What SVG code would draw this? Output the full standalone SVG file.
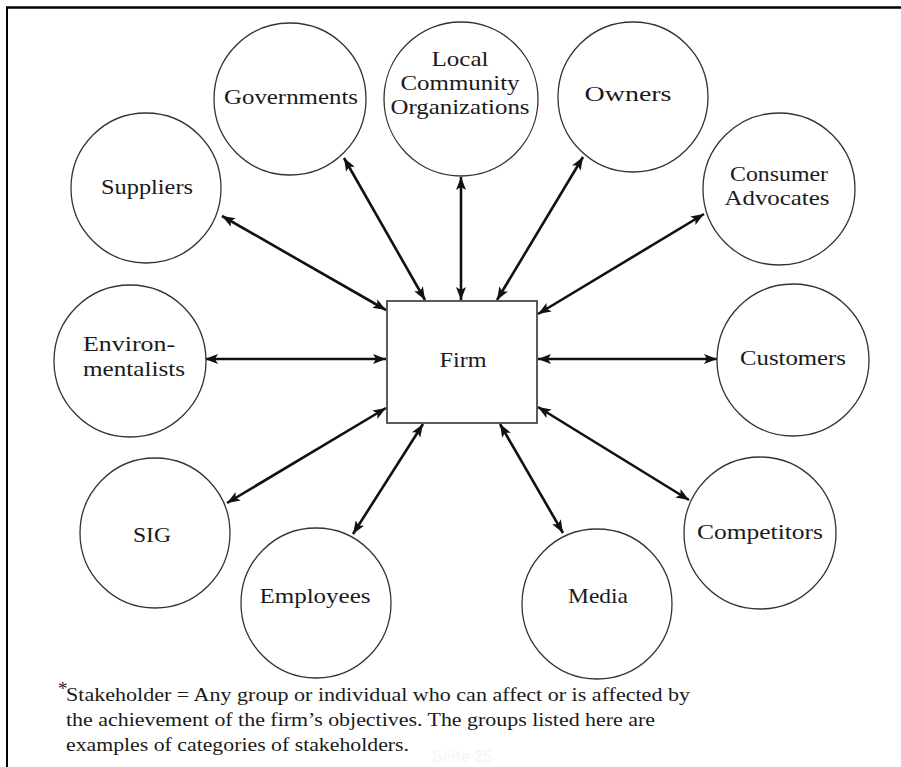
<svg xmlns="http://www.w3.org/2000/svg" width="901" height="767" viewBox="0 0 901 767">
  <style>
    .node circle { fill: #fff; stroke: #333; stroke-width: 1.3; }
    .node rect { fill: #fff; stroke: #333; stroke-width: 1.6; }
    .lbl { font-family: "Liberation Serif", "Times New Roman", serif; font-size: 22px; fill: #1a1a1a; text-anchor: middle; }
    .note { font-family: "Liberation Serif", "Times New Roman", serif; font-size: 19px; fill: #1a1a1a; }
    .conn line { stroke: #111; stroke-width: 2.6; marker-start: url(#head); marker-end: url(#head); }
    .frame { stroke: #000; fill: none; }
  </style>
  <defs>
    <marker id="head" markerUnits="userSpaceOnUse" markerWidth="14" markerHeight="10" refX="13" refY="5" orient="auto-start-reverse">
      <path d="M0,0 L13,5 L0,10 L3,5 z" fill="#111"/>
    </marker>
  </defs>

  <rect width="901" height="767" fill="#fff"/>

  <!-- page frame: top rule and left rule -->
  <line class="frame" x1="6" y1="7.5" x2="901" y2="7.5" stroke-width="2.6"/>
  <line class="frame" x1="7" y1="7" x2="7" y2="767" stroke-width="2"/>

  <!-- connectors between the firm and each stakeholder group -->
  <g id="connectors" class="conn">
    <line x1="222" y1="216" x2="386" y2="310"/>
    <line x1="344" y1="158" x2="425" y2="300"/>
    <line x1="461" y1="177" x2="461" y2="300"/>
    <line x1="583" y1="157" x2="497" y2="300"/>
    <line x1="704" y1="214" x2="538" y2="314"/>
    <line x1="205" y1="359" x2="386" y2="359"/>
    <line x1="717" y1="359" x2="538" y2="359"/>
    <line x1="227" y1="503" x2="386" y2="408"/>
    <line x1="353" y1="534" x2="423" y2="424"/>
    <line x1="563" y1="533" x2="500" y2="424"/>
    <line x1="689" y1="500" x2="538" y2="407"/>
  </g>

  <g id="firm" class="node">
    <rect x="387" y="301" width="150" height="122"/>
    <text class="lbl" x="463" y="367" textLength="47" lengthAdjust="spacingAndGlyphs">Firm</text>
  </g>

  <g id="governments" class="node">
    <circle cx="290" cy="99" r="76"/>
    <text class="lbl" x="291" y="104" textLength="134" lengthAdjust="spacingAndGlyphs">Governments</text>
  </g>

  <g id="local-community" class="node">
    <circle cx="461" cy="99" r="77"/>
    <text class="lbl" x="460" y="66" textLength="57" lengthAdjust="spacingAndGlyphs">Local</text>
    <text class="lbl" x="460" y="90" textLength="119" lengthAdjust="spacingAndGlyphs">Community</text>
    <text class="lbl" x="460" y="114" textLength="139" lengthAdjust="spacingAndGlyphs">Organizations</text>
  </g>

  <g id="owners" class="node">
    <circle cx="633" cy="97" r="75"/>
    <text class="lbl" x="628" y="101" textLength="87" lengthAdjust="spacingAndGlyphs">Owners</text>
  </g>

  <g id="suppliers" class="node">
    <circle cx="146" cy="188" r="75"/>
    <text class="lbl" x="147" y="194" textLength="92" lengthAdjust="spacingAndGlyphs">Suppliers</text>
  </g>

  <g id="consumer-advocates" class="node">
    <circle cx="779" cy="189" r="76"/>
    <text class="lbl" x="779" y="181" textLength="98" lengthAdjust="spacingAndGlyphs">Consumer</text>
    <text class="lbl" x="777" y="205" textLength="105" lengthAdjust="spacingAndGlyphs">Advocates</text>
  </g>

  <g id="environmentalists" class="node">
    <circle cx="130" cy="361" r="76"/>
    <text class="lbl" x="129" y="351" textLength="92" lengthAdjust="spacingAndGlyphs">Environ-</text>
    <text class="lbl" x="134" y="376" textLength="102" lengthAdjust="spacingAndGlyphs">mentalists</text>
  </g>

  <g id="customers" class="node">
    <circle cx="793" cy="360" r="76"/>
    <text class="lbl" x="793" y="365" textLength="106" lengthAdjust="spacingAndGlyphs">Customers</text>
  </g>

  <g id="sig" class="node">
    <circle cx="155" cy="533" r="75"/>
    <text class="lbl" x="152" y="542" textLength="38" lengthAdjust="spacingAndGlyphs">SIG</text>
  </g>

  <g id="employees" class="node">
    <circle cx="316" cy="603" r="75"/>
    <text class="lbl" x="315" y="603" textLength="111" lengthAdjust="spacingAndGlyphs">Employees</text>
  </g>

  <g id="media" class="node">
    <circle cx="597" cy="604" r="75"/>
    <text class="lbl" x="598" y="603" textLength="60" lengthAdjust="spacingAndGlyphs">Media</text>
  </g>

  <g id="competitors" class="node">
    <circle cx="760" cy="533" r="76"/>
    <text class="lbl" x="760" y="539" textLength="126" lengthAdjust="spacingAndGlyphs">Competitors</text>
  </g>

  <!-- footnote -->
  <g id="footnote">
    <text class="note" x="58" y="695" font-size="13">*</text>
    <text class="note" x="66" y="701" textLength="624" lengthAdjust="spacingAndGlyphs">Stakeholder = Any group or individual who can affect or is affected by</text>
    <text class="note" x="66" y="726" textLength="589" lengthAdjust="spacingAndGlyphs">the achievement of the firm’s objectives. The groups listed here are</text>
    <text class="note" x="66" y="751" textLength="343" lengthAdjust="spacingAndGlyphs">examples of categories of stakeholders.</text>
    <text x="462" y="762" font-family="Liberation Sans, sans-serif" font-size="16" font-weight="bold" fill="#f6f6f6" text-anchor="middle">Seite 25</text>
  </g>
</svg>
